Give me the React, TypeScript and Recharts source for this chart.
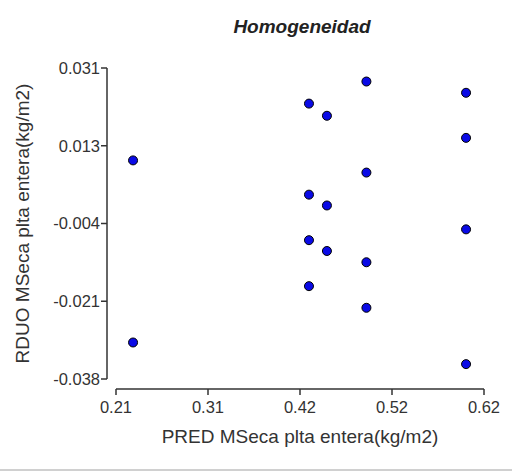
import { ScatterChart, Scatter, XAxis, YAxis } from "recharts";

// predicted values (x) and residuals (y)
const predicted = [
  0.229, 0.229, 0.425, 0.425, 0.425, 0.425, 0.445, 0.445, 0.445, 0.489, 0.489,
  0.489, 0.489, 0.6, 0.6, 0.6, 0.6,
];
const residuals = [
  0.0105, -0.0299, 0.0231, 0.0029, -0.0072, -0.0174, 0.0204, 0.0005, -0.0096,
  0.028, 0.0078, -0.0121, -0.0222, 0.0255, 0.0155, -0.0048, -0.0347,
];

const xTicks = [0.21, 0.3125, 0.415, 0.5175, 0.62];
const xTickLabels = ["0.21", "0.31", "0.42", "0.52", "0.62"];
const yTicks = [-0.038, -0.02075, -0.0035, 0.01375, 0.031];
const yTickLabels = ["-0.038", "-0.021", "-0.004", "0.013", "0.031"];

const title = "Homogeneidad";
const xLabel = "PRED MSeca plta entera(kg/m2)";
const yLabel = "RDUO MSeca plta entera(kg/m2)";

const points = predicted.map((x, i) => ({ x, y: residuals[i] }));

const font = '"Liberation Sans", Arial, sans-serif';
const axisColor = "#333";
const textColor = "#333";
const AXIS_GAP = 10; // axes sit a little away from the data area

const Dot = (props: any) => (
  <circle
    cx={props.cx}
    cy={props.cy}
    r={4.5}
    fill="#0a0ae6"
    stroke="#000"
    strokeWidth={1}
  />
);

const XTick = ({ x, y, payload }: any) => (
  <g transform={`translate(${x},${y + AXIS_GAP})`}>
    <line y1={0} y2={6} stroke={axisColor} strokeWidth={1.5} />
    <text
      y={12}
      dy="0.71em"
      textAnchor="middle"
      fill={textColor}
      fontSize={16.5}
      fontFamily={font}
    >
      {xTickLabels[xTicks.indexOf(payload.value)]}
    </text>
  </g>
);

const YTick = ({ x, y, payload }: any) => (
  <g transform={`translate(${x - AXIS_GAP + 1},${y})`}>
    <line x1={0} x2={-6} stroke={axisColor} strokeWidth={1.5} />
    <text
      x={-7}
      dy="0.355em"
      textAnchor="end"
      fill={textColor}
      fontSize={16.5}
      fontFamily={font}
    >
      {yTickLabels[yTicks.indexOf(payload.value)]}
    </text>
  </g>
);

export default function App() {
  return (
    <div
      style={{
        position: "absolute",
        left: 0,
        top: 0,
        width: 518,
        height: 472,
        background: "#fff",
        fontFamily: font,
      }}
    >
      {/* shift the axis lines off the data area, Prism style */}
      <style>{`
        .recharts-xAxis .recharts-cartesian-axis-line { transform: translateY(${AXIS_GAP}px); }
        .recharts-yAxis .recharts-cartesian-axis-line { transform: translateX(-${AXIS_GAP - 1}px); }
      `}</style>
      <div
        style={{
          position: "absolute",
          left: 118,
          width: 368,
          top: 16,
          textAlign: "center",
          fontSize: 19,
          fontWeight: "bold",
          fontStyle: "italic",
          color: "#222",
        }}
      >
        {title}
      </div>
      <ScatterChart
        width={518}
        height={472}
        margin={{ top: 68, right: 34, bottom: 0, left: 0 }}
      >
        <XAxis
          type="number"
          dataKey="x"
          domain={[0.21, 0.62]}
          ticks={xTicks}
          interval={0}
          height={93}
          tickSize={0}
          tickMargin={0}
          tickLine={false}
          stroke={axisColor}
          strokeWidth={1.5}
          tick={<XTick />}
          label={{
            value: xLabel,
            position: "insideBottom",
            offset: 29,
            style: { fill: textColor, fontSize: 19, fontFamily: font },
          }}
        />
        <YAxis
          type="number"
          dataKey="y"
          domain={[-0.038, 0.031]}
          ticks={yTicks}
          interval={0}
          width={116}
          tickSize={0}
          tickMargin={0}
          tickLine={false}
          stroke={axisColor}
          strokeWidth={1.5}
          tick={<YTick />}
          label={{
            value: yLabel,
            angle: -90,
            position: "insideLeft",
            offset: 22,
            style: {
              fill: textColor,
              fontSize: 19,
              fontFamily: font,
              textAnchor: "middle",
            },
          }}
        />
        <Scatter data={points} shape={<Dot />} isAnimationActive={false} />
      </ScatterChart>
      <div
        style={{
          position: "absolute",
          left: 0,
          top: 469,
          width: 512,
          height: 0,
          borderTop: "2px solid #d0d0d0",
        }}
      />
    </div>
  );
}
